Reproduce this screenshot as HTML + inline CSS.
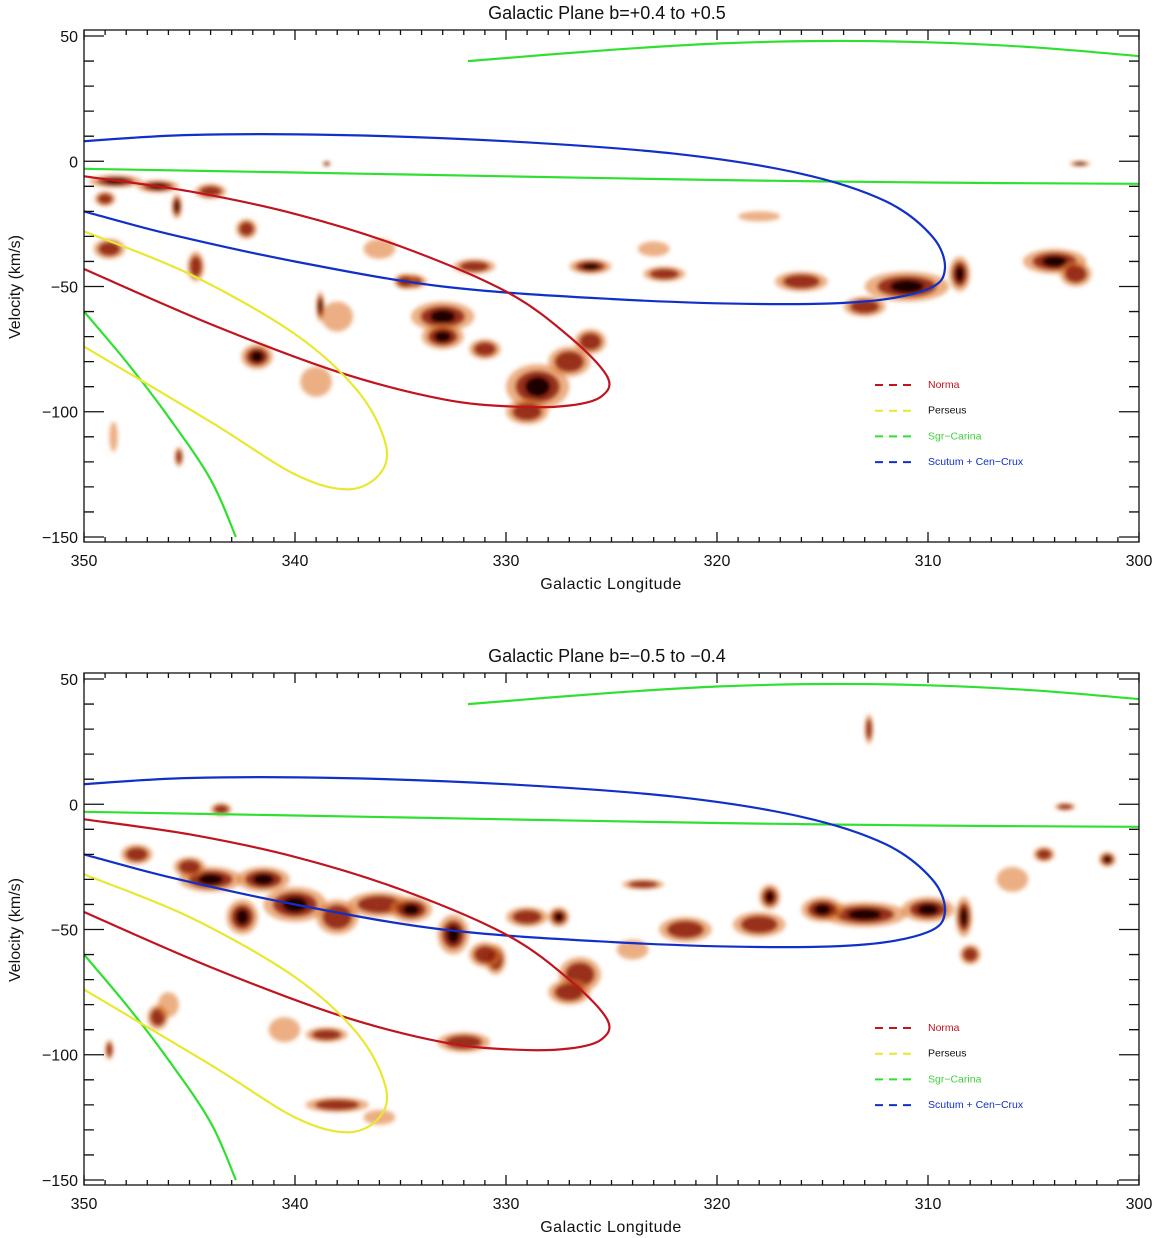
<!DOCTYPE html>
<html><head><meta charset="utf-8"><style>
html,body{margin:0;padding:0;background:#fff;}
svg{display:block;font-family:"Liberation Sans",sans-serif;}
</style></head><body>
<svg id="chart" width="1155" height="1238" viewBox="0 0 1155 1238">
<defs><filter id="blur" x="-50%" y="-50%" width="200%" height="200%"><feGaussianBlur stdDeviation="2.2"/></filter></defs>
</svg>
<script>
// ---- data ----
const panelTitles = ["Galactic Plane b=+0.4 to +0.5", "Galactic Plane b=\u22120.5 to \u22120.4"];
const xTicks = [350, 340, 330, 320, 310, 300];
const yTicks = [50, 0, -50, -100, -150];
const yTickLabels = ["50", "0", "\u221250", "\u2212100", "\u2212150"];
const legendNames = ["Norma", "Perseus", "Sgr\u2212Carina", "Scutum + Cen\u2212Crux"];
const legendColors = ["#c0141e", "#e8e830", "#30e030", "#1030c8"];
// spiral arm curves (l, v)
const sgrUpperL = [331.8, 325, 320, 315, 310, 305, 300];
const sgrUpperV = [40, 44.5, 47, 48, 47.5, 45.5, 42];
const sgrLowerL = [350, 340, 330, 320, 310, 300];
const sgrLowerV = [-3, -4.5, -6, -7.5, -8.5, -9];
const sgrLeftL = [350, 348, 346, 344, 342.8];
const sgrLeftV = [-60, -80, -102, -127, -150];
const blueL = [350, 345, 338, 330, 322, 316, 312, 309.8, 309.2, 310, 313, 318, 325, 333, 340, 346, 350];
const blueV = [8, 10.5, 10.5, 8, 3, -5, -16, -30, -43, -51, -56, -57, -55, -50, -40, -29, -20];
const redL = [350, 345, 340, 335, 330, 327, 325.2, 325.5, 327, 329.5, 333, 338, 344, 350];
const redV = [-6, -12, -21, -34, -52, -70, -86, -94, -97.5, -98, -95, -84, -65, -43];
const yelL = [350, 345, 340, 337, 335.7, 336, 337.5, 340, 344, 350];
const yelV = [-28, -45, -69, -92, -113, -125, -131, -125, -104, -74];
// emission clumps: l, v, width(deg), height(km/s), intensity
const topL = [348.5,345.6,348.8,344.7,342.3,341.8,338.8,333,331.5,328.5,327,326,326,322.5,316,311,304,345.5,302.8,338.5,348.6,336,318,339,334.5,331,346.5,344,333,329,334.8,313,308.5,303,323,349,338];
const topV = [-8,-18,-35,-42,-27,-78,-58,-62,-42,-90,-80,-72,-42,-45,-48,-50,-40,-118,-1,-1,-110,-35,-22,-88,-48,-75,-10,-12,-70,-100,-48,-58,-45,-45,-35,-15,-62];
const topW = [2.5,0.5,1.5,0.8,1,1.5,0.4,3,2,3,2,1.5,2,2,2.5,4,3,0.4,1,0.4,0.4,1.5,2,1.5,1.5,1.5,2,1.5,2,2,1,2,1,1.5,1.5,1,1.5];
const topH = [5,10,8,12,8,10,12,12,6,18,12,10,6,6,8,12,10,8,2,2,12,8,4,12,6,8,5,6,10,10,6,8,14,10,6,6,12];
const topI = [3,3,2,2,2,3,3,3,2,3,2,2,3,2,2,3,3,2,3,3,1,1,1,1,2,2,3,2,3,2,2,2,3,2,1,2,1];
const botL = [343.5,344,340,336,342.5,332.5,330.5,327.5,326.5,323.5,321.5,317.5,313,310,308.3,304.5,301.5,346.5,338.5,332,338,348.8,312.8,303.5,347.5,329,341.5,338,334.5,318,315,324,331,327,345,306,308,346,336,340.5];
const botV = [-2,-30,-40,-40,-45,-52,-62,-45,-68,-32,-50,-37,-44,-42,-45,-20,-22,-85,-92,-95,-120,-98,30,-1,-20,-45,-30,-45,-42,-48,-42,-58,-60,-75,-25,-30,-60,-80,-125,-90];
const botW = [1,3,3,3,1.5,1.5,1,1,2,2,2.5,1,4,2.5,0.8,1,0.8,1,2,2.5,3,0.4,0.4,1,1.5,2,2.5,2,2,2.5,2,1.5,1.5,2,1.5,1.5,1,1,1.5,1.5];
const botH = [5,10,14,10,14,16,12,8,14,4,10,10,10,10,16,6,6,10,6,8,6,8,12,3,8,8,10,14,10,10,10,8,10,10,8,10,8,10,6,10];
const botI = [2,3,3,2,3,3,2,3,2,2,2,3,3,3,3,2,3,2,2,2,2,2,2,2,2,2,3,2,3,2,3,1,2,2,2,1,2,1,1,1];

// ---- layout ----
const svg = document.getElementById('chart');
const NS = 'http://www.w3.org/2000/svg';
const X0 = 84, X1 = 1139, LMAX = 350, LMIN = 300;
const VMAX = 52.4, VMIN = -152, PH = 512;
const panelTops = [30, 673];
function xs(l){ return X0 + (LMAX - l) / (LMAX - LMIN) * (X1 - X0); }
function ysF(top){ return v => top + (VMAX - v) / (VMAX - VMIN) * PH; }
function mk(tag, attrs, parent){ const e = document.createElementNS(NS, tag); for (const k in attrs) e.setAttribute(k, attrs[k]); (parent||svg).appendChild(e); return e; }
function smoothPath(pts){
  let d = 'M' + pts[0][0].toFixed(1) + ',' + pts[0][1].toFixed(1);
  for (let i = 0; i < pts.length - 1; i++){
    const p0 = pts[Math.max(0,i-1)], p1 = pts[i], p2 = pts[i+1], p3 = pts[Math.min(pts.length-1,i+2)];
    const c1 = [p1[0]+(p2[0]-p0[0])/6, p1[1]+(p2[1]-p0[1])/6];
    const c2 = [p2[0]-(p3[0]-p1[0])/6, p2[1]-(p3[1]-p1[1])/6];
    d += ' C'+c1[0].toFixed(1)+','+c1[1].toFixed(1)+' '+c2[0].toFixed(1)+','+c2[1].toFixed(1)+' '+p2[0].toFixed(1)+','+p2[1].toFixed(1);
  }
  return d;
}

const clumpSets = [[topL,topV,topW,topH,topI],[botL,botV,botW,botH,botI]];
panelTops.forEach((top, p) => {
  const ys = ysF(top);
  const g = mk('g', {});
  
  
  const t = mk('text', {x: 607, y: top - 11, 'text-anchor': 'middle', 'font-size': 18, fill: '#111'}, g);
  t.textContent = panelTitles[p];
  
  

  // clumps
  const cg = mk('g', {filter: 'url(#blur)'}, g);
  
  
  const [L,V,W,H,I] = clumpSets[p];
  for (let i = 0; i < L.length; i++){
    const cx = xs(L[i]), cy = ys(V[i]);
    const rx = W[i] / 50 * (X1 - X0) / 2, ry = H[i] / (VMAX - VMIN) * PH / 2;
    const o = mk('ellipse', {cx, cy, rx: rx, ry: ry, fill: '#e07a30', opacity: 0.6}, cg);
    
    
    if (I[i] >= 2) mk('ellipse', {cx, cy, rx: rx*0.7, ry: ry*0.7, fill: '#8a1a08', opacity: 0.85}, cg);
    if (I[i] >= 3) mk('ellipse', {cx, cy, rx: rx*0.4, ry: ry*0.45, fill: '#1a0400'}, cg);
  }

  // curves
  const curves = [
    [sgrUpperL, sgrUpperV, legendColors[2], 'sgr-carina-far-arm'],
    [sgrLowerL, sgrLowerV, legendColors[2], 'sgr-carina-near-arm'],
    [sgrLeftL, sgrLeftV, legendColors[2], 'sgr-carina-inner-arm'],
    [blueL, blueV, legendColors[3], 'scutum-cen-crux-arm'],
    [redL, redV, legendColors[0], 'norma-arm'],
    [yelL, yelV, legendColors[1], 'perseus-arm'],
  ];
  curves.forEach(c => {
    const pts = c[0].map((l, i) => [xs(l), ys(c[1][i])]);
    const path = mk('path', {d: smoothPath(pts), fill: 'none', stroke: c[2], 'stroke-width': 2.2}, g);
    
    
  });

  // frame + ticks
  const fr = mk('rect', {x: X0, y: top, width: X1 - X0, height: PH, fill: 'none', stroke: '#111', 'stroke-width': 1.3}, g);
  
  
  let td = '';
  for (let l = 350; l >= 300; l--){
    const x = xs(l), len = (l % 10 === 0) ? 10 : 5;
    td += `M${x},${top}v${len}M${x},${top+PH}v${-len}`;
  }
  for (let v = 50; v >= -150; v -= 10){
    const y = ys(v), len = (v % 50 === 0) ? 20 : 10;
    td += `M${X0},${y}h${len}M${X1},${y}h${-len}`;
  }
  mk('path', {d: td, stroke: '#111', 'stroke-width': 1.3, fill: 'none'}, g);
  xTicks.forEach(l => {
    const tx = mk('text', {x: xs(l), y: top + PH + 24, 'text-anchor': 'middle', 'font-size': 16, fill: '#111'}, g);
    tx.textContent = l;
    
    
  });
  yTicks.forEach((v, i) => {
    const ty = mk('text', {x: X0 - 6, y: ys(v) + 6, 'text-anchor': 'end', 'font-size': 16, fill: '#111'}, g);
    ty.textContent = yTickLabels[i];
    
    
  });
  const xt = mk('text', {x: 611, y: top + PH + 47, 'text-anchor': 'middle', 'font-size': 16, fill: '#111', 'letter-spacing': 0.5}, g);
  xt.textContent = 'Galactic Longitude';
  
  
  const yt = mk('text', {x: 20, y: top + 257, 'text-anchor': 'middle', 'font-size': 16, fill: '#111', transform: `rotate(-90 20 ${top+257})`}, g);
  yt.textContent = 'Velocity (km/s)';
  
  

  // legend
  legendNames.forEach((n, i) => {
    const ly = top + 355 + i * 25.7;
    const le = mk('g', {}, g);
    
    
    mk('line', {x1: 875, x2: 914, y1: ly, y2: ly, stroke: legendColors[i], 'stroke-width': 2, 'stroke-dasharray': '8 6'}, le);
    const lt = mk('text', {x: 928, y: ly + 3, 'font-size': 10.5, fill: i === 1 ? '#111' : (i === 2 ? '#40d040' : legendColors[i])}, le);
    lt.textContent = n;
  });
});
</script>
</body></html>
